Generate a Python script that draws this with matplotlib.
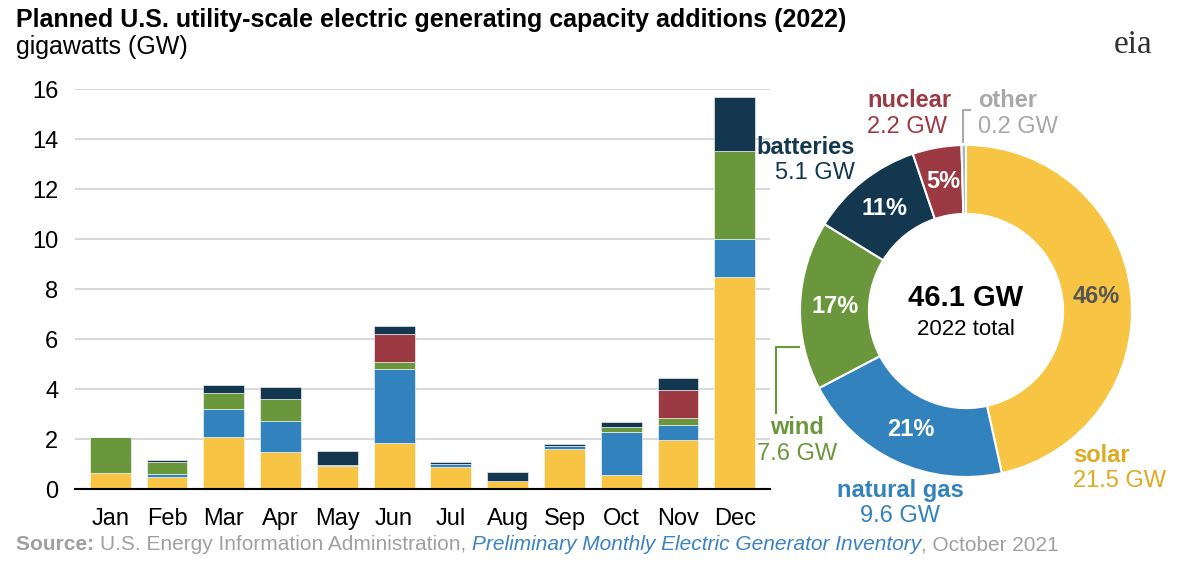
import matplotlib.pyplot as plt
import numpy as np

plt.rcParams['font.family'] = ['Liberation Sans', 'DejaVu Sans']

months = ['Jan', 'Feb', 'Mar', 'Apr', 'May', 'Jun', 'Jul', 'Aug', 'Sep', 'Oct', 'Nov', 'Dec']
solar = [0.64, 0.48, 2.10, 1.47, 0.93, 1.83, 0.89, 0.32, 1.60, 0.57, 1.95, 8.48]
gas = [0.00, 0.13, 1.11, 1.24, 0.04, 2.98, 0.11, 0.00, 0.12, 1.70, 0.60, 1.52]
wind = [1.45, 0.48, 0.64, 0.90, 0.00, 0.27, 0.02, 0.00, 0.00, 0.20, 0.29, 3.52]
nuclear = [0, 0, 0, 0, 0, 1.11, 0, 0, 0, 0, 1.11, 0]
batteries = [0.00, 0.06, 0.30, 0.47, 0.56, 0.33, 0.07, 0.36, 0.08, 0.20, 0.49, 2.16]

pie_labels = ['solar', 'natural gas', 'wind', 'batteries', 'nuclear', 'other']
pie_values = [21.5, 9.6, 7.6, 5.1, 2.2, 0.2]
pie_pct = ['46%', '21%', '17%', '11%', '5%', '']

c_solar, c_gas, c_wind, c_nuc, c_batt, c_other = '#f7c443', '#3282bd', '#6a973b', '#9b3a43', '#12374f', '#b0b0b0'
colors = [c_solar, c_gas, c_wind, c_batt, c_nuc, c_other]

W, H = 1200, 567
fig = plt.figure(figsize=(12, 5.67), dpi=100)

def px(x, y):
    return x / W, 1 - y / H

ax = fig.add_axes([75 / W, 1 - 489 / H, 695 / W, 400 / H])

x = np.arange(len(months))
bottom = np.zeros(len(months))
for vals, col in [(solar, c_solar), (gas, c_gas), (wind, c_wind), (nuclear, c_nuc), (batteries, c_batt)]:
    ax.bar(x, vals, 0.72, bottom=bottom, color=col, edgecolor='white', linewidth=0.4)
    bottom += np.array(vals)

ax.set_ylim(0, 16)
ax.set_xlim(-0.62, 11.62)
ax.set_yticks(range(0, 17, 2))
ax.set_xticks(x)
ax.set_xticklabels(months)
ax.tick_params(length=0, labelsize=17, colors='black')
ax.tick_params(axis='x', pad=14)
ax.tick_params(axis='y', pad=12)
ax.grid(axis='y', color='#d9d9d9', linewidth=1.5)
ax.set_axisbelow(True)
for s in ['top', 'right', 'left']:
    ax.spines[s].set_visible(False)
ax.spines['bottom'].set_linewidth(1.5)

fig.text(*px(16, 20), 'Planned U.S. utility-scale electric generating capacity additions (2022)',
         fontsize=18, fontweight='bold', va='center')
fig.text(*px(16, 47), 'gigawatts (GW)', fontsize=18, va='center')
fig.text(*px(1133, 45), 'eia', fontsize=24, color='#333333', ha='center', va='center', family='Liberation Serif')

# source line, pieces placed one after another
fig.canvas.draw()
r = fig.canvas.get_renderer()
xpos = 16
for txt, kw in [('Source: ', dict(color='#a0a0a0', fontweight='bold')),
                ('U.S. Energy Information Administration, ', dict(color='#a0a0a0')),
                ('Preliminary Monthly Electric Generator Inventory', dict(color='#3a82c4', style='italic')),
                (', October 2021', dict(color='#a0a0a0'))]:
    t = fig.text(*px(xpos, 545), txt, fontsize=15, va='center', **kw)
    xpos += t.get_window_extent(r).width

cx, cy, rad = 966, 311, 166
pax = fig.add_axes([(cx - rad) / W, 1 - (cy + rad) / H, 2 * rad / W, 2 * rad / H])
wedges, _ = pax.pie(pie_values, colors=colors, startangle=90, counterclock=False,
                    wedgeprops=dict(width=0.415, edgecolor='white', linewidth=1.5), radius=1)
pax.set_xlim(-1, 1)
pax.set_ylim(-1, 1)
for w, p in zip(wedges, pie_pct):
    if not p:
        continue
    ang = np.deg2rad((w.theta1 + w.theta2) / 2)
    col = '#555555' if p == '46%' else 'white'
    pax.text(0.79 * np.cos(ang), 0.79 * np.sin(ang), p, ha='center', va='center',
             fontsize=17, fontweight='bold', color=col)
pax.text(0, 0.08, '46.1 GW', ha='center', va='center', fontsize=21, fontweight='bold')
pax.text(0, -0.11, '2022 total', ha='center', va='center', fontsize=16)

def lab(xp, yp, name, val, col, ha='left'):
    fig.text(*px(xp, yp), name, fontsize=17, fontweight='bold', color=col, ha=ha, va='center')
    fig.text(*px(xp, yp + 26), val, fontsize=17, color=col, ha=ha, va='center')

lab(1073, 455, 'solar', '21.5 GW', '#e0aa20')
lab(900, 490, 'natural gas', '9.6 GW', c_gas, ha='center')
lab(797, 428, 'wind', '7.6 GW', c_wind, ha='center')
lab(855, 147, 'batteries', '5.1 GW', c_batt, ha='right')
lab(867, 101, 'nuclear', '2.2 GW', c_nuc)
lab(978, 101, 'other', '0.2 GW', '#a8a8a8')
fig.add_artist(plt.Line2D([799 / W, 776 / W, 776 / W], [1 - 347 / H, 1 - 347 / H, 1 - 413 / H], color=c_wind, lw=1.5))
fig.add_artist(plt.Line2D([970 / W, 963 / W, 963 / W], [1 - 110 / H, 1 - 110 / H, 1 - 142 / H], color='#a8a8a8', lw=1.5))

fig.savefig('out.png')
